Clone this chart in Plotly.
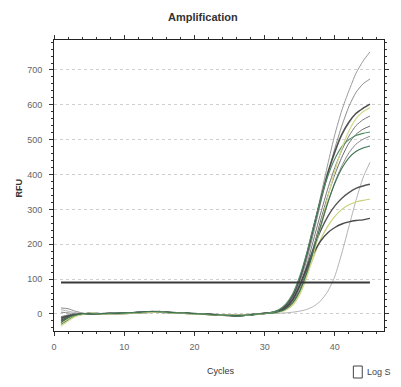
import plotly.graph_objects as go

cycles = list(range(1, 46))

# baseline variants for cycles 5-30
base_a = [1, 0, 1, 2, 1, 2, 3, 4, 6, 7, 6, 5, 4, 3, 2, 1, 0, -1, -2, -3, -4, -5, -4, -2, 0, 2]
base_b = [0, 1, 0, 1, 2, 3, 3, 5, 5, 6, 7, 5, 3, 2, 2, 0, -1, -1, -3, -4, -5, -6, -5, -3, -1, 1]
base_c = [2, 1, 0, 0, 1, 1, 2, 3, 4, 5, 5, 4, 3, 3, 1, 0, 0, -2, -2, -3, -3, -4, -3, -2, 0, 1]

# (name, start cycles 1-4, baseline, rise cycles 31-45, color, width)
curves = [
    ("W1", [-10, -4, -1, 0], base_a, [5, 10, 22, 48, 95, 165, 250, 340, 430, 515, 585, 640, 690, 725, 752], "#9a9a9a", 1),
    ("W2", [17, 15, 8, 3], base_b, [4, 9, 20, 44, 88, 155, 235, 320, 400, 475, 540, 595, 635, 660, 674], "#8a8a8a", 1),
    ("W3", [-25, -12, -4, -1], base_c, [4, 10, 24, 52, 100, 170, 250, 330, 405, 465, 515, 550, 575, 590, 602], "#505050", 1.6),
    ("W4", [-8, -3, -1, 0], base_a, [3, 8, 18, 40, 80, 140, 215, 290, 360, 420, 470, 510, 540, 557, 568], "#777777", 1),
    ("W5", [-15, -7, -2, 0], base_b, [3, 7, 15, 34, 70, 125, 195, 270, 340, 400, 450, 490, 515, 530, 539], "#6a6a6a", 1),
    ("W6", [5, 3, 1, 0], base_c, [2, 6, 13, 30, 62, 112, 178, 250, 318, 378, 425, 462, 487, 501, 510], "#888888", 1),
    ("W7", [12, 8, 4, 1], base_a, [1, 2, 3, 5, 8, 13, 22, 38, 65, 108, 175, 250, 325, 390, 435], "#a0a0a0", 0.8),
    ("W8", [-18, -9, -3, 0], base_b, [3, 8, 18, 40, 80, 135, 190, 240, 280, 310, 332, 348, 360, 367, 372], "#555555", 1.4),
    ("W9", [-28, -15, -5, -1], base_c, [2, 5, 12, 28, 60, 110, 165, 215, 252, 280, 300, 313, 321, 326, 329], "#c9d27a", 1.2),
    ("W10", [-12, -6, -2, 0], base_a, [3, 8, 19, 42, 82, 130, 175, 210, 233, 248, 258, 264, 268, 270, 274], "#4a4a4a", 1.4),
    ("W11", [-30, -18, -6, -1], base_b, [5, 12, 28, 58, 108, 175, 255, 330, 395, 445, 480, 500, 512, 518, 522], "#4f8a63", 1.1),
    ("W12", [-35, -20, -8, -2], base_c, [2, 5, 11, 25, 55, 105, 175, 255, 335, 410, 475, 525, 560, 580, 592], "#d4d98f", 1.2),
    ("W13", [-20, -10, -3, 0], base_a, [2, 6, 14, 32, 66, 118, 185, 255, 320, 375, 418, 448, 466, 476, 482], "#3b7352", 1.1),
]

threshold_x = [1, 45]
threshold_y = [90, 90]

y_ticks = [0, 100, 200, 300, 400, 500, 600, 700]
x_ticks = [0, 10, 20, 30, 40]

font_narrow = "Liberation Sans Narrow, Arial Narrow, Liberation Sans, Arial"

fig = go.Figure()
for name, start, base, rise, color, width in curves:
    fig.add_trace(go.Scatter(
        x=cycles, y=start + base + rise, mode="lines", name=name,
        line=dict(color=color, width=width, shape="spline", smoothing=0.6),
        showlegend=False, hoverinfo="skip",
    ))

fig.add_trace(go.Scatter(
    x=threshold_x, y=threshold_y, mode="lines",
    line=dict(color="#3a3a3a", width=2), showlegend=False, hoverinfo="skip",
))

fig.update_layout(
    width=401, height=387,
    margin=dict(l=54, r=13, t=40, b=56),
    paper_bgcolor="white", plot_bgcolor="white",
    font=dict(family=font_narrow, size=9, color="#444"),
    showlegend=False,
)
fig.update_xaxes(
    range=[0, 47], tickvals=x_ticks, ticktext=[str(v) for v in x_ticks],
    showgrid=False, zeroline=False,
    showline=True, linecolor="#222", linewidth=1, mirror="ticks",
    ticks="outside", ticklen=4, tickcolor="#333", ticklabelstandoff=3,
    minor=dict(dtick=2, ticks="outside", ticklen=2, tickcolor="#333", showgrid=False),
    tickfont=dict(size=9, color="#666"),
)
fig.update_yaxes(
    range=[-49, 786], tickvals=y_ticks, ticktext=[str(v) for v in y_ticks],
    showgrid=True, gridcolor="#d0d0d0", griddash="dot", gridwidth=1,
    zeroline=False,
    showline=True, linecolor="#222", linewidth=1, mirror="ticks",
    ticks="outside", ticklen=4, tickcolor="#333", ticklabelstandoff=5,
    minor=dict(dtick=20, ticks="outside", ticklen=2, tickcolor="#333", showgrid=False),
    tickfont=dict(size=9, color="#666"),
)

fig.add_annotation(text="<b>Amplification</b>", xref="paper", yref="paper",
                   x=(205 - 54) / 334, y=1 + (40 - 17) / 291, showarrow=False,
                   font=dict(size=11, color="#333", family=font_narrow), xanchor="center", yanchor="middle")
fig.add_annotation(text="<b>RFU</b>", xref="paper", yref="paper",
                   x=(19 - 54) / 334, y=(331 - 188) / 291, showarrow=False, textangle=-90,
                   font=dict(size=9, color="#333", family=font_narrow), xanchor="center", yanchor="middle")
fig.add_annotation(text="Cycles", xref="paper", yref="paper",
                   x=(223 - 54) / 334, y=-(371 - 331) / 291, showarrow=False,
                   font=dict(size=9, color="#333", family=font_narrow), xanchor="center", yanchor="middle")
fig.add_shape(type="rect", xref="paper", yref="paper",
              x0=(357 - 54) / 334, x1=(366 - 54) / 334,
              y0=-(378 - 331) / 291, y1=-(366 - 331) / 291,
              line=dict(color="#444", width=1), fillcolor="white")
fig.add_annotation(text="Log S", xref="paper", yref="paper",
                   x=(369 - 54) / 334, y=-(372 - 331) / 291, showarrow=False,
                   font=dict(size=9, color="#444", family=font_narrow), xanchor="left", yanchor="middle")

fig.write_html("out.html")
